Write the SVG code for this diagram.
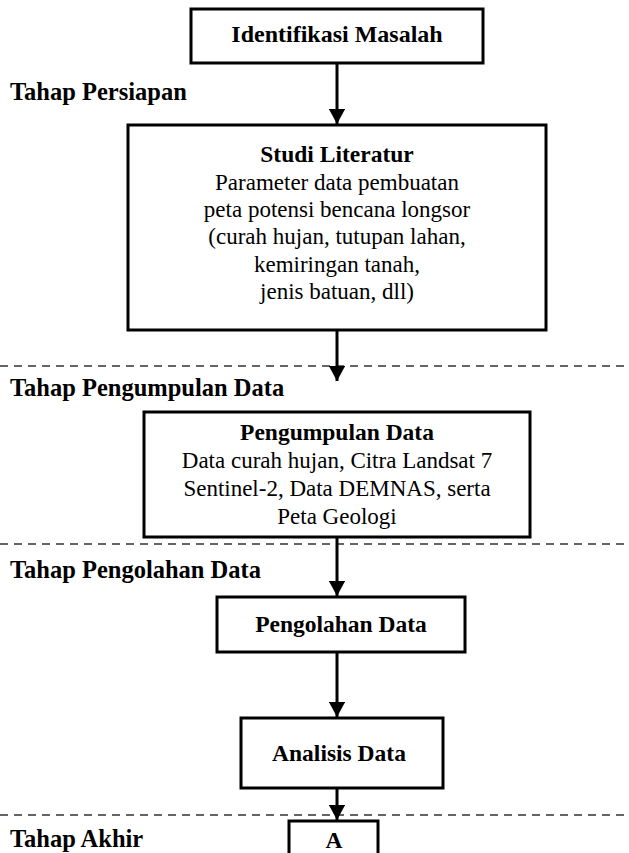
<svg xmlns="http://www.w3.org/2000/svg" width="629" height="853" viewBox="0 0 629 853">
<defs>
<style>
.box{fill:#fff;stroke:#000;stroke-width:3}
.b{font-family:"Liberation Serif","Times New Roman",serif;font-weight:bold;font-size:23.5px;fill:#000}
.lbl{font-size:24.5px}
.t{font-family:"Liberation Serif","Times New Roman",serif;font-size:23px;fill:#000}
.c{text-anchor:middle}
.dash{stroke:#333;stroke-width:1.3;stroke-dasharray:8 6;fill:none}
.arr{stroke:#000;stroke-width:3;fill:none}
</style>
<marker id="ah" markerWidth="5" markerHeight="5.4" refX="5" refY="2.7" orient="auto" markerUnits="strokeWidth">
<path d="M0,0 L5,2.7 L0,5.4 Z" fill="#000"/>
</marker>
</defs>
<rect width="629" height="853" fill="#fff"/>
<g id="phases">
<line class="dash" x1="0" y1="366" x2="629" y2="366"/>
<line class="dash" x1="0" y1="544" x2="629" y2="544"/>
<line class="dash" x1="0" y1="815" x2="629" y2="815"/>
<text class="b lbl" x="10" y="100">Tahap Persiapan</text>
<text class="b lbl" x="10" y="396">Tahap Pengumpulan Data</text>
<text class="b lbl" x="10" y="578">Tahap Pengolahan Data</text>
<text class="b lbl" x="10" y="847">Tahap Akhir</text>
</g>
<g id="connectors">
<line class="arr" x1="337" y1="63" x2="337" y2="124" marker-end="url(#ah)"/>
<line class="arr" x1="337" y1="330" x2="337" y2="381" marker-end="url(#ah)"/>
<line class="arr" x1="337" y1="537" x2="337" y2="596" marker-end="url(#ah)"/>
<line class="arr" x1="337" y1="652" x2="337" y2="717" marker-end="url(#ah)"/>
<line class="arr" x1="337" y1="788" x2="337" y2="820" marker-end="url(#ah)"/>
</g>
<g id="identifikasi">
<rect class="box" x="191" y="9" width="292" height="54"/>
<text class="b c" x="337" y="42" style="font-size:24px">Identifikasi Masalah</text>
</g>
<g id="studi">
<rect class="box" x="128" y="125" width="418" height="205"/>
<text class="b c" x="337" y="162">Studi Literatur</text>
<text class="t c" x="337" y="190">Parameter data pembuatan</text>
<text class="t c" x="337" y="217">peta potensi bencana longsor</text>
<text class="t c" x="337" y="244">(curah hujan, tutupan lahan,</text>
<text class="t c" x="337" y="272">kemiringan tanah,</text>
<text class="t c" x="337" y="299">jenis batuan, dll)</text>
</g>
<g id="pengumpulan">
<rect class="box" x="144" y="412" width="386" height="125"/>
<text class="b c" x="337" y="440">Pengumpulan Data</text>
<text class="t c" x="337" y="468">Data curah hujan, Citra Landsat 7</text>
<text class="t c" x="337" y="496">Sentinel-2, Data DEMNAS, serta</text>
<text class="t c" x="337" y="524">Peta Geologi</text>
</g>
<g id="pengolahan">
<rect class="box" x="217" y="597" width="248" height="55"/>
<text class="b c" x="341" y="632">Pengolahan Data</text>
</g>
<g id="analisis">
<rect class="box" x="241" y="718" width="202" height="70"/>
<text class="b c" x="339" y="761">Analisis Data</text>
</g>
<g id="a">
<rect class="box" x="289" y="821" width="89" height="45"/>
<text class="b c" x="334" y="848">A</text>
</g>
</svg>
